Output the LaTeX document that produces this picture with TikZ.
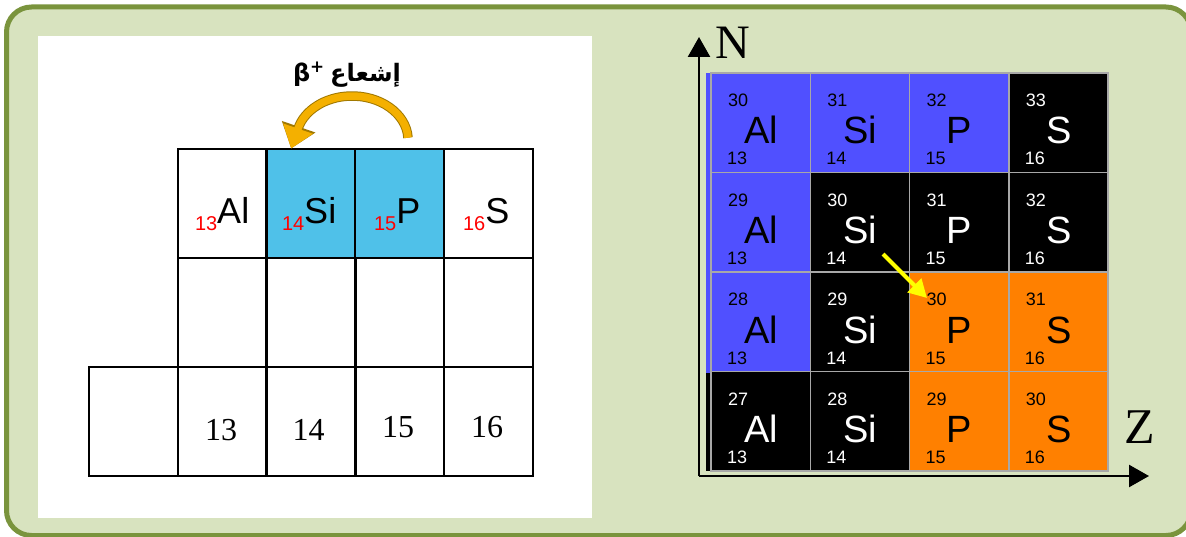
\documentclass[tikz,border=0pt]{standalone}
\usepackage{fontspec}
\setmainfont{Liberation Serif}
\newfontfamily\arialf{Liberation Sans}
\newfontfamily\arabicfont[Script=Arabic]{DejaVu Sans}
\TeXXeTstate=1
\usetikzlibrary{arrows.meta}
\definecolor{frameedge}{HTML}{7A943D}
\definecolor{framefill}{HTML}{D8E3BF}
\definecolor{cyancell}{HTML}{4FC1E9}
\definecolor{arcorange}{HTML}{F4B000}
\definecolor{arcedge}{HTML}{A07800}
\definecolor{nucblue}{HTML}{5050FF}
\definecolor{nucorange}{HTML}{FF8000}
\definecolor{gridgray}{HTML}{A8A8A8}
\definecolor{arrowyellow}{HTML}{FFFF00}
\tikzset{
  tcell/.style={draw=black, line width=2.5pt, minimum width=89pt, minimum height=109pt, inner sep=0pt},
  nucbox/.style={draw=gridgray, line width=1.5pt, minimum width=99.25pt, minimum height=99.5pt, inner sep=0pt},
  plain/.style={inner sep=0pt, outer sep=0pt},
  elemlbl/.style={plain, anchor=base west, font=\arialf\fontsize{36}{36}\selectfont},
  zlbl/.style={plain, anchor=base, font=\fontsize{32}{32}\selectfont},
  axis/.style={line width=2.5pt, -{Triangle[length=20pt,width=22pt]}},
}
\newcommand{\redz}[1]{{\color{red}\fontsize{20}{20}\selectfont #1}}
\newcommand{\nuccell}[7]{%
  \node[nucbox, fill=#3] (n#1#2) at ({711+99.25*#1+49.625},{73+99.5*#2+49.75}) {};
  \node[plain, anchor=base west, text=#4, font=\arialf\fontsize{18}{18}\selectfont] (a#1#2) at ({711+99.25*#1+17},{73+99.5*#2+34}) {#5};
  \node[plain, anchor=base, text=#4, font=\arialf\fontsize{38}{38}\selectfont] (s#1#2) at ({711+99.25*#1+50},{73+99.5*#2+71}) {#6};
  \node[plain, anchor=base west, text=#4, font=\arialf\fontsize{18}{18}\selectfont] (z#1#2) at ({711+99.25*#1+16},{73+99.5*#2+92}) {#7};
}
\begin{document}
\begin{tikzpicture}[x=1pt, y=-1pt]
\useasboundingbox (0,0) rectangle (1186,537);
% frame
\draw[line width=5pt, draw=frameedge, fill=framefill, rounded corners=25pt] (6.5,7) rectangle (1191,535.5);
\fill[white] (38,36) rectangle (592,518);

% ---------- left table ----------
\node[tcell] (t11) at (222.5,203.5) {};
\node[tcell, fill=cyancell] (t12) at (311,203.5) {};
\node[tcell, fill=cyancell] (t13) at (399.5,203.5) {};
\node[tcell] (t14) at (488.5,203.5) {};
\node[tcell] (t21) at (222.5,312.5) {};
\node[tcell] (t22) at (311,312.5) {};
\node[tcell] (t23) at (399.5,312.5) {};
\node[tcell] (t24) at (488.5,312.5) {};
\node[tcell] (t30) at (133.5,421.5) {};
\node[tcell] (t31) at (222.5,421.5) {};
\node[tcell] (t32) at (311,421.5) {};
\node[tcell] (t33) at (399.5,421.5) {};
\node[tcell] (t34) at (488.5,421.5) {};

\node[elemlbl] (eAl) at (195,231) {\redz{13}\raisebox{7pt}{Al}};
\node[elemlbl] (eSi) at (282,231) {\redz{14}\raisebox{7pt}{Si}};
\node[elemlbl] (eP)  at (374,231) {\redz{15}\raisebox{7pt}{P}};
\node[elemlbl] (eS)  at (463,231) {\redz{16}\raisebox{7pt}{S}};

\node[zlbl] (z13) at (221,440) {13};
\node[zlbl] (z14) at (308.5,440) {14};
\node[zlbl] (z15) at (398,437) {15};
\node[zlbl] (z16) at (487,437) {16};

% radiation label and arc
\node[plain, anchor=base east] (rad) at (401,82) {\arabicfont\bfseries\fontsize{24}{24}\selectfont\beginR إشعاع\endR};
\node[plain, anchor=base west] (beta) at (293,82) {\arabicfont\bfseries\fontsize{24}{24}\selectfont β\textsuperscript{+}};
\coordinate (arcstart) at (408,137.7);
\draw[line width=9.5pt, draw=arcedge, -{Triangle[length=23pt,width=34pt]}] (arcstart) arc[start angle=3, end angle=165, x radius=56pt, y radius=44pt] -- ++(251:21pt);
\draw[line width=7.5pt, draw=arcorange, -{Triangle[length=21pt,width=30pt]}, color=arcorange] (arcstart) arc[start angle=3, end angle=165, x radius=56pt, y radius=44pt] -- ++(251:21pt);

% ---------- right chart ----------
\fill[nucblue] (706,73) rectangle (711,372.5);
\fill[black] (706,372.5) rectangle (711,471);
\nuccell{0}{0}{nucblue}{black}{30}{Al}{13}
\nuccell{1}{0}{nucblue}{black}{31}{Si}{14}
\nuccell{2}{0}{nucblue}{black}{32}{P}{15}
\nuccell{3}{0}{black}{white}{33}{S}{16}
\nuccell{0}{1}{nucblue}{black}{29}{Al}{13}
\nuccell{1}{1}{black}{white}{30}{Si}{14}
\nuccell{2}{1}{black}{white}{31}{P}{15}
\nuccell{3}{1}{black}{white}{32}{S}{16}
\nuccell{0}{2}{nucblue}{black}{28}{Al}{13}
\nuccell{1}{2}{black}{white}{29}{Si}{14}
\nuccell{2}{2}{nucorange}{black}{30}{P}{15}
\nuccell{3}{2}{nucorange}{black}{31}{S}{16}
\nuccell{0}{3}{black}{white}{27}{Al}{13}
\nuccell{1}{3}{black}{white}{28}{Si}{14}
\nuccell{2}{3}{nucorange}{black}{29}{P}{15}
\nuccell{3}{3}{nucorange}{black}{30}{S}{16}

% axes
\coordinate (origin) at (699,476);
\coordinate (ntip) at (699,37);
\coordinate (ztip) at (1149,476);
\draw[axis] (origin) -- (ntip);
\draw[axis] (origin) -- (ztip);
\node[plain, anchor=base west, font=\fontsize{48}{48}\selectfont] (Nlbl) at (715,59) {N};
\node[plain, anchor=base west, font=\fontsize{50}{50}\selectfont] (Zlbl) at (1124,443) {Z};

% yellow arrow
\coordinate (ya) at (883,254);
\coordinate (yb) at (927,298);
\draw[line width=4pt, draw=arrowyellow, -{Triangle[length=18pt,width=19pt]}] (ya) -- (yb);
\end{tikzpicture}
\end{document}
